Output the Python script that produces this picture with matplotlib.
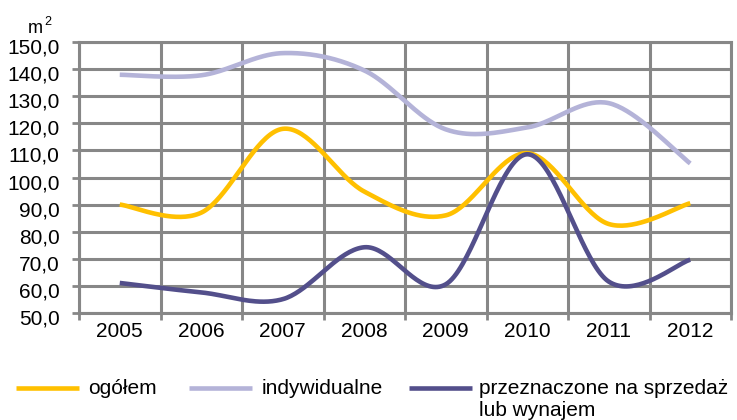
import numpy as np
import matplotlib
matplotlib.use("Agg")
import matplotlib.pyplot as plt
from matplotlib.lines import Line2D
from matplotlib.transforms import ScaledTranslation

# ---- data ----
years = ["2005", "2006", "2007", "2008", "2009", "2010", "2011", "2012"]
ogolem = [90.0, 87.0, 118.0, 94.8, 86.0, 109.0, 82.8, 90.5]
indywidualne = [138.0, 137.8, 146.0, 139.6, 117.8, 118.5, 127.5, 105.2]
przeznaczone = [61.0, 57.5, 55.0, 74.2, 60.5, 108.6, 61.5, 69.6]
series_labels = ["ogółem", "indywidualne", "przeznaczone na sprzedaż\nlub wynajem"]
y_ticks = [50, 60, 70, 80, 90, 100, 110, 120, 130, 140, 150]
unit = "m"

colors = ["#FFC000", "#B4B3D8", "#534F8B"]
grid_c = "#878787"

plt.rcParams['font.family'] = ['Liberation Sans', 'DejaVu Sans']


def smooth(x, y, n=40):
    """Excel-like smoothed line (Catmull-Rom Bezier)."""
    P = np.column_stack([np.asarray(x, float), np.asarray(y, float)])
    Pe = np.vstack([P[0], P, P[-1]])
    t = np.linspace(0, 1, n)[:, None]
    out = []
    for i in range(len(P) - 1):
        p0, p3 = P[i], P[i + 1]
        c1 = p0 + (Pe[i + 2] - Pe[i]) / 6
        c2 = p3 - (Pe[i + 3] - Pe[i + 1]) / 6
        seg = (1 - t) ** 3 * p0 + 3 * (1 - t) ** 2 * t * c1 + 3 * (1 - t) * t ** 2 * c2 + t ** 3 * p3
        out.append(seg if i == 0 else seg[1:])
    s = np.vstack(out)
    return s[:, 0], s[:, 1]


W, H = 737, 420
fig = plt.figure(figsize=(W / 100, H / 100), dpi=100)
ax = fig.add_axes([79 / W, 1 - 312.7 / H, (731 - 79) / W, (312.7 - 42.3) / H])

xpos = np.arange(len(years)) + 0.5
for vals, c in zip([ogolem, indywidualne, przeznaczone], colors):
    sx, sy = smooth(xpos, vals)
    ax.plot(sx, sy, color=c, lw=3.3, solid_capstyle='butt', zorder=3)

ax.set_xlim(0, len(years))
ax.set_ylim(y_ticks[0], y_ticks[-1])
ax.set_yticks(y_ticks)
ax.set_yticklabels([f"{v:.1f}".replace(".", ",") for v in y_ticks], fontsize=15)
ax.set_xticks(np.arange(len(years) + 1))
ax.set_xticklabels([])
ax.set_xticks(xpos, minor=True)
ax.set_xticklabels(years, minor=True, fontsize=15)
ax.tick_params(axis='x', which='minor', length=0, pad=7)
ax.tick_params(axis='x', which='major', length=5, width=2, color=grid_c)
ax.tick_params(axis='y', length=5, width=2, color=grid_c, pad=9)
ax.grid(True, which='major', color=grid_c, lw=2.2, zorder=1)
ax.set_axisbelow(True)
for sp in ax.spines.values():
    sp.set_color(grid_c)
    sp.set_linewidth(2.2)

# y labels sit slightly below their gridlines in the reference
shift = ScaledTranslation(0, -4 / 100, fig.dpi_scale_trans)
for lab in ax.get_yticklabels():
    lab.set_transform(lab.get_transform() + shift)

# unit label
fig.text(28 / W, 1 - 33 / H, unit, fontsize=13, va='baseline', ha='left')
fig.text(44 / W, 1 - 25 / H, "2", fontsize=9, va='baseline', ha='left')

# legend
leg_lines = [(16, 79, 88), (189, 252, 262), (409, 472, 479)]
ly = 1 - 388 / H
for (x0, x1, tx), c, lab in zip(leg_lines, colors, series_labels):
    fig.add_artist(Line2D([x0 / W, x1 / W], [ly, ly], transform=fig.transFigure,
                          color=c, lw=3.3, solid_capstyle='butt'))
    for k, part in enumerate(lab.split("\n")):
        fig.text(tx / W, 1 - (394 + 22 * k) / H, part, fontsize=15,
                 va='baseline', ha='left')

fig.savefig("out.png", dpi=100)
